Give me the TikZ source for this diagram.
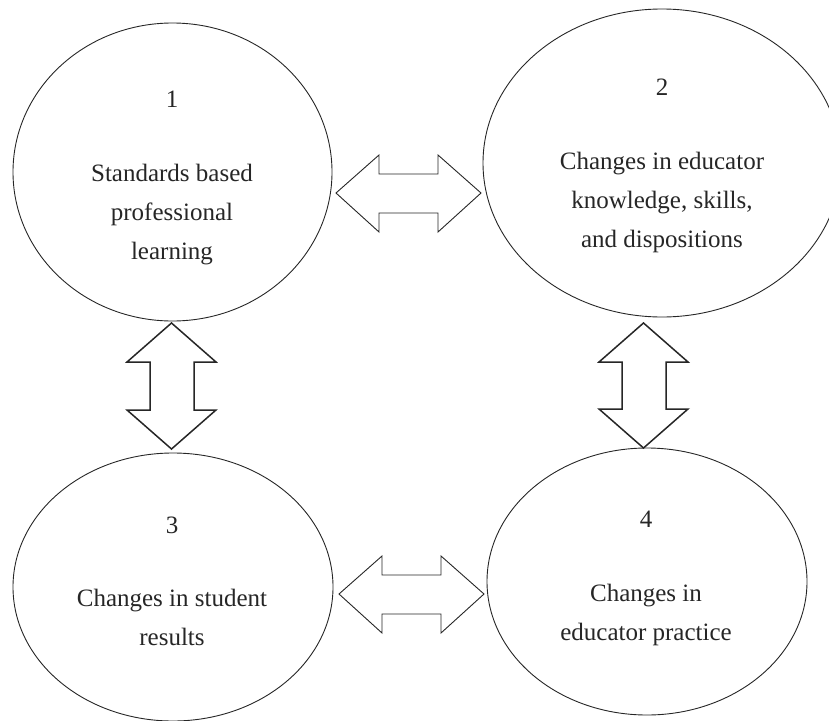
\documentclass[tikz,border=0pt]{standalone}
\usepackage{fontspec}
\setmainfont{Liberation Serif}
\usetikzlibrary{shapes.geometric,calc}

\tikzset{
  ell/.style={ellipse, draw=black!85, line width=0.9pt, inner sep=0pt},
  lbl/.style={font=\fontsize{25}{39}\selectfont, align=center, anchor=base, inner sep=0pt, text=black!85},
  hfat/.style={draw=black!85, line width=0.9pt, fill=white, line join=miter},
  vfat/.style={draw=black!85, line width=1.5pt, fill=white, line join=miter},
}

% horizontal double arrow between tip coordinates #1 (left) and #2 (right)
\newcommand\hdouble[2]{%
  \draw[hfat] (#1) -- ($(#1)+(43,-38)$) -- ($(#1)+(43,-19)$) -- ($(#2)+(-43,-19)$)
    -- ($(#2)+(-43,-38)$) -- (#2) -- ($(#2)+(-43,39)$) -- ($(#2)+(-43,20)$)
    -- ($(#1)+(43,20)$) -- ($(#1)+(43,39)$) -- cycle;}
% vertical double arrow between tip coordinates #1 (top) and #2 (bottom)
\newcommand\vdouble[2]{%
  \draw[vfat] (#1) -- ($(#1)+(44.5,39)$) -- ($(#1)+(22.5,39)$) -- ($(#2)+(22.5,-39)$)
    -- ($(#2)+(44.5,-39)$) -- (#2) -- ($(#2)+(-44.5,-39)$) -- ($(#2)+(-21.5,-39)$)
    -- ($(#1)+(-21.5,39)$) -- ($(#1)+(-44.5,39)$) -- cycle;}

\begin{document}
\begin{tikzpicture}[x=1pt, y=-1pt]
  \useasboundingbox (0,0) rectangle (829,720);
  \clip (0,0) rectangle (829,720);

  % the four stages
  \node[ell, minimum width=319pt, minimum height=298pt] (e1) at (172.5,172) {};
  \node[ell, minimum width=358pt, minimum height=308pt] (e2) at (662,163) {};
  \node[ell, minimum width=320pt, minimum height=268pt] (e3) at (173,587) {};
  \node[ell, minimum width=320pt, minimum height=267pt] (e4) at (647,581.5) {};

  % labels: the base anchor of a multi-line label is its last line
  \node[lbl] (n1) at (172,107) {1};
  \node[lbl] (t1) at (172,259) {Standards based\\professional\\learning};
  \node[lbl] (n2) at (662,95) {2};
  \node[lbl] (t2) at (662,247) {Changes in educator\\knowledge, skills,\\and dispositions};
  \node[lbl] (n3) at (172,533) {3};
  \node[lbl] (t3) at (172,645) {Changes in student\\results};
  \node[lbl] (n4) at (646,527) {4};
  \node[lbl] (t4) at (646,640) {Changes in\\educator practice};

  % arrow tips
  \coordinate (h1a) at (336,193);
  \coordinate (h1b) at (481,193);
  \coordinate (h2a) at (339,594);
  \coordinate (h2b) at (484,594);
  \coordinate (v1a) at (171.5,323);
  \coordinate (v1b) at (171.5,449);
  \coordinate (v2a) at (643.5,323);
  \coordinate (v2b) at (643.5,448);

  \hdouble{h1a}{h1b}
  \hdouble{h2a}{h2b}
  \vdouble{v1a}{v1b}
  \vdouble{v2a}{v2b}
\end{tikzpicture}
\end{document}
